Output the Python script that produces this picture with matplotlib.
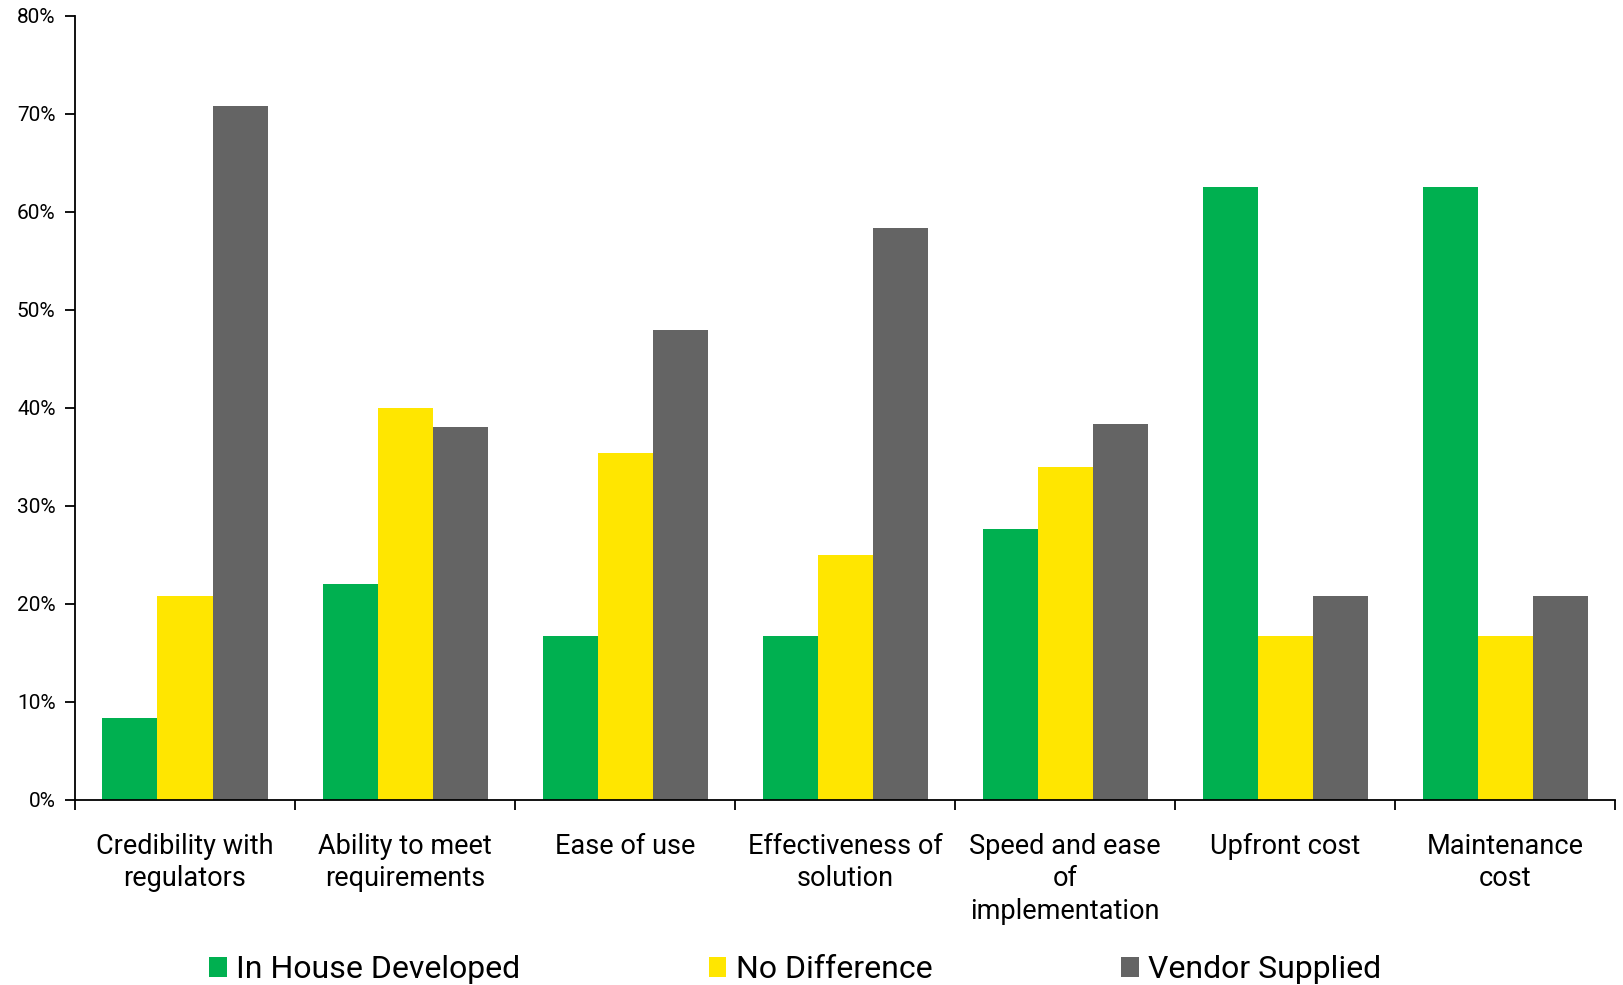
import matplotlib.pyplot as plt
from matplotlib.ticker import FuncFormatter, FixedLocator
import numpy as np

plt.rcParams['font.family'] = ['Roboto', 'DejaVu Sans']

categories = ['Credibility with\nregulators', 'Ability to meet\nrequirements', 'Ease of use',
              'Effectiveness of\nsolution', 'Speed and ease\nof\nimplementation',
              'Upfront cost', 'Maintenance\ncost']
in_house = [8.3, 22.0, 16.7, 16.7, 27.6, 62.5, 62.5]
no_diff = [20.8, 40.0, 35.4, 25.0, 34.0, 16.7, 16.7]
vendor = [70.8, 38.0, 47.9, 58.3, 38.3, 20.8, 20.8]
series = ['In House Developed', 'No Difference', 'Vendor Supplied']
colors = ['#00B050', '#FFE600', '#646464']

fig = plt.figure(figsize=(16.23, 9.85), dpi=100)
ax = fig.add_axes([0.0462, 0.188, 0.949, 0.796])

x = np.arange(len(categories))
w = 0.25
for i, (vals, name, c) in enumerate(zip([in_house, no_diff, vendor], series, colors)):
    ax.bar(x + (i - 1) * w, vals, w, color=c, label=name, linewidth=0)

ax.set_xlim(-0.5, len(categories) - 0.5)
ax.set_ylim(0, 80)
ax.set_yticks(np.arange(0, 81, 10))
ax.yaxis.set_major_formatter(FuncFormatter(lambda v, p: '%d%%' % v))
ax.set_xticks(x)
ax.set_xticklabels(categories, fontsize=19.5, linespacing=1.25)
ax.xaxis.set_minor_locator(FixedLocator(np.arange(-0.5, len(categories), 1)))
ax.tick_params(axis='x', which='major', length=0, pad=24)
ax.tick_params(axis='x', which='minor', length=7, width=1.3, direction='out')
ax.tick_params(axis='y', length=7, width=1.3, labelsize=15, pad=7)
for s in ['top', 'right']:
    ax.spines[s].set_visible(False)
for s in ['left', 'bottom']:
    ax.spines[s].set_linewidth(1.3)

fig.legend(loc='center', bbox_to_anchor=(0.49, 0.0155), ncol=3, frameon=False, fontsize=23,
           handlelength=0.55, handleheight=0.55, handletextpad=0.3, columnspacing=5.9)

plt.savefig('out.png', dpi=100)
